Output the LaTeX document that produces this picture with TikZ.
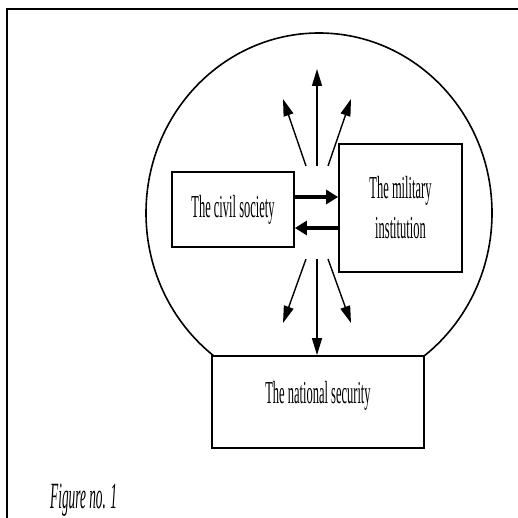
\documentclass[tikz,border=0pt]{standalone}
\usepackage{fontspec}
\usetikzlibrary{arrows.meta}
\setmainfont{Liberation Serif}[FakeStretch=0.39]
\newfontfamily\capfont{Liberation Serif}[FakeStretch=0.36]
\newcommand{\boxfont}{\fontsize{32}{40}\selectfont}

\begin{document}
\begin{tikzpicture}[x=1pt,y=-1pt,%
  box/.style={draw,line width=1.8pt,fill=white,inner sep=0pt,align=center,font=\boxfont},%
  arr/.style={-{Triangle[length=17pt,width=10pt]},line width=1.4pt},%
  thickarr/.style={-{Triangle[length=12pt,width=14pt]},line width=4pt}%
  ]
  \useasboundingbox (0,0) rectangle (518,518);
  \clip (0,0) rectangle (518,518);
  % frame
  \draw[line width=2.6pt] (7,540) -- (7,9) -- (540,9);
%
  \draw[line width=1.6pt] (319,213) ellipse [x radius=173, y radius=180];
%
  \node (civil) [box,minimum width=122,minimum height=75] at (233,209.5) {The civil society};
  \node (mil)   [box,minimum width=123,minimum height=128] at (400.5,208) {The military\\institution};
  \node (ns)    [box,minimum width=212,minimum height=92,text height=40,text depth=38] at (318,402) {The national security};
%
  \draw[thickarr] ([yshift=12.5pt]civil.east) -- ([yshift=11pt]mil.west);
  \draw[thickarr] ([yshift=-20pt]mil.west) -- ([yshift=-18.5pt]civil.east);
%
  \foreach \n/\sx/\sy/\ex/\ey in {ul/306/166/283/99, u/317/166/317/69, ur/328/166/351/99,
                                   dl/306/259/283/323, dr/328/259/351/323}{
    \coordinate (s-\n) at (\sx,\sy);
    \coordinate (e-\n) at (\ex,\ey);
    \draw[arr] (s-\n) -- (e-\n);
  }
  \coordinate (s-d) at (317,259);
  \draw[arr] (s-d) -- (s-d |- ns.north);
%
  \node (cap) [anchor=base west,inner sep=0pt,font=\capfont\itshape\fontsize{37}{40}\selectfont] at (50,508) {Figure no. 1};
\end{tikzpicture}
\end{document}
